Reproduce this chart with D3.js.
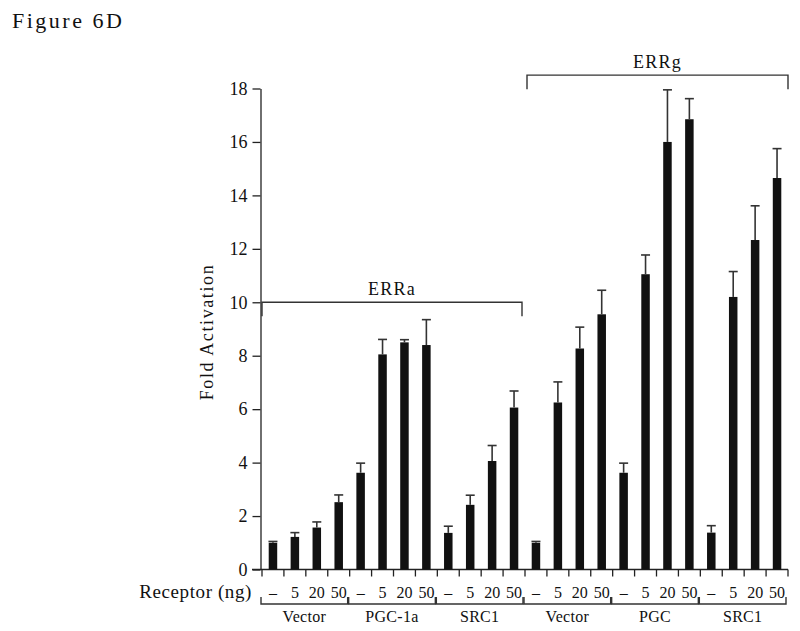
<!DOCTYPE html>
<html>
<head>
<meta charset="utf-8">
<script src="https://cdn.jsdelivr.net/npm/d3@7"></script>
<style>
	body { margin: 0; background: #fff; }
	svg text { font-family: "Liberation Serif", "Times New Roman", serif; fill: #111; }
</style>
</head>
<body>
<div id="basket"></div>
<script>

	// fold activation, 6 groups x 4 doses
	var receptors = ["ERRa", "ERRg"];
	var groups = ["Vector", "PGC-1a", "SRC1", "Vector", "PGC", "SRC1"];
	var doses = ["\u2013", "5", "20", "50"];
	var values = [1.0, 1.22, 1.57, 2.52,  3.62, 8.05, 8.5, 8.4,  1.37, 2.42, 4.06, 6.06,
		1.0, 6.25, 8.27, 9.55,  3.62, 11.05, 16.0, 16.85,  1.38, 10.2, 12.33, 14.65];
	var errors = [0.05, 0.16, 0.21, 0.27,  0.36, 0.56, 0.1, 0.95,  0.25, 0.36, 0.58, 0.62,
		0.05, 0.77, 0.8, 0.9,  0.36, 0.72, 1.95, 0.77,  0.26, 0.95, 1.28, 1.1];
	var yTicks = [0, 2, 4, 6, 8, 10, 12, 14, 16, 18];

	var w = 800, h = 631;

	var svg = d3.select("#basket")
		.append("svg")
		.attr("width", w)
		.attr("height", h);

	var bars = [];
	for (var i = 0; i < values.length; i++) {
		bars.push({i: i, v: values[i], e: errors[i], dose: doses[i % 4], group: Math.floor(i / 4)});
	}

	var x = d3.scaleBand()
		.domain(d3.range(values.length))
		.range([262, 788])
		.paddingInner(0)
		.paddingOuter(0);

	var y = d3.scaleLinear()
		.domain([0, 18])
		.range([569.5, 88.5]);

	var bw = 8.5;
	var ink = "#222";

	// title
	svg.append("text")
		.attr("x", 12)
		.attr("y", 28)
		.style("font-size", "22px")
		.style("letter-spacing", "2.5px")
		.text("Figure 6D");

	// y axis
	var yAxis = svg.append("g")
		.attr("transform", "translate(260.5,0)")
		.call(d3.axisLeft(y).tickValues(yTicks).tickSize(8).tickPadding(5).tickSizeOuter(0));
	yAxis.select(".domain").attr("stroke", ink).attr("stroke-width", 1.3);
	yAxis.selectAll(".tick line").attr("stroke", ink).attr("stroke-width", 1.3);
	yAxis.selectAll(".tick text")
		.style("font-family", "Liberation Serif")
		.style("font-size", "18px")
		.attr("fill", "#111");

	svg.append("text")
		.attr("transform", "translate(213,332) rotate(-90)")
		.attr("text-anchor", "middle")
		.style("font-size", "18px")
		.style("letter-spacing", "1.6px")
		.text("Fold Activation");

	// x axis with ticks between the bars
	var edges = d3.range(values.length + 1).map(function(k) {
		return k < values.length ? x(k) : x(k - 1) + x.bandwidth();
	});
	svg.append("line")
		.attr("x1", 252).attr("x2", edges[edges.length - 1])
		.attr("y1", y(0)).attr("y2", y(0))
		.attr("stroke", ink).attr("stroke-width", 1.3);
	svg.append("g").selectAll("line")
		.data(edges)
		.enter()
		.append("line")
		.attr("x1", function(d) {return d;})
		.attr("x2", function(d) {return d;})
		.attr("y1", y(0))
		.attr("y2", y(0) + 7)
		.attr("stroke", ink).attr("stroke-width", 1.3);

	// bars
	svg.append("g").selectAll("rect")
		.data(bars)
		.enter()
		.append("rect")
		.attr("x", function(d) {return x(d.i) + x.bandwidth() / 2 - bw / 2;})
		.attr("y", function(d) {return y(d.v);})
		.attr("width", bw)
		.attr("height", function(d) {return y(0) - y(d.v);})
		.attr("fill", "#111");

	// error bars (upper only)
	var eb = svg.append("g").selectAll("g")
		.data(bars)
		.enter()
		.append("g")
		.attr("stroke", "#333")
		.attr("stroke-width", 1.6);
	eb.append("line")
		.attr("x1", function(d) {return x(d.i) + x.bandwidth() / 2;})
		.attr("x2", function(d) {return x(d.i) + x.bandwidth() / 2;})
		.attr("y1", function(d) {return y(d.v);})
		.attr("y2", function(d) {return y(d.v + d.e);});
	eb.append("line")
		.attr("x1", function(d) {return x(d.i) + x.bandwidth() / 2 - 4.5;})
		.attr("x2", function(d) {return x(d.i) + x.bandwidth() / 2 + 4.5;})
		.attr("y1", function(d) {return y(d.v + d.e);})
		.attr("y2", function(d) {return y(d.v + d.e);});

	// receptor brackets
	var bracketLevel = [10, 18.5];
	receptors.forEach(function(r, k) {
		var x0 = edges[k * 12] + (k === 0 ? 0 : 2);
		var x1 = edges[k * 12 + 12] - (k === 0 ? 3 : 0);
		var yb = y(bracketLevel[k]);
		svg.append("path")
			.attr("d", "M" + x0 + "," + (yb + 14) + "V" + yb + "H" + x1 + "V" + (yb + 14))
			.attr("fill", "none")
			.attr("stroke", "#333")
			.attr("stroke-width", 1.4);
		svg.append("text")
			.attr("x", (x0 + x1) / 2)
			.attr("y", yb - 7)
			.attr("text-anchor", "middle")
			.style("font-size", "18px")
			.style("letter-spacing", "1.3px")
			.text(r);
	});

	// dose labels
	svg.append("text")
		.attr("x", 252)
		.attr("y", 598)
		.attr("text-anchor", "end")
		.style("font-size", "19px")
		.style("letter-spacing", "0.6px")
		.text("Receptor (ng)");

	svg.append("g").selectAll("text")
		.data(bars)
		.enter()
		.append("text")
		.attr("x", function(d) {return x(d.i) + x.bandwidth() / 2;})
		.attr("y", 598)
		.attr("text-anchor", "middle")
		.style("font-size", "16px")
		.text(function(d) {return d.dose;});

	// group brackets and names
	groups.forEach(function(gname, k) {
		var x0 = edges[k * 4] - 1;
		var x1 = edges[k * 4 + 4] - 2;
		svg.append("path")
			.attr("d", "M" + x0 + ",597V604H" + x1 + "V597")
			.attr("fill", "none")
			.attr("stroke", "#333")
			.attr("stroke-width", 1.4);
		svg.append("text")
			.attr("x", (x0 + x1) / 2)
			.attr("y", 622)
			.attr("text-anchor", "middle")
			.style("font-size", "16px")
			.style("letter-spacing", "0.3px")
			.text(gname);
	});

</script>
</body>
</html>
